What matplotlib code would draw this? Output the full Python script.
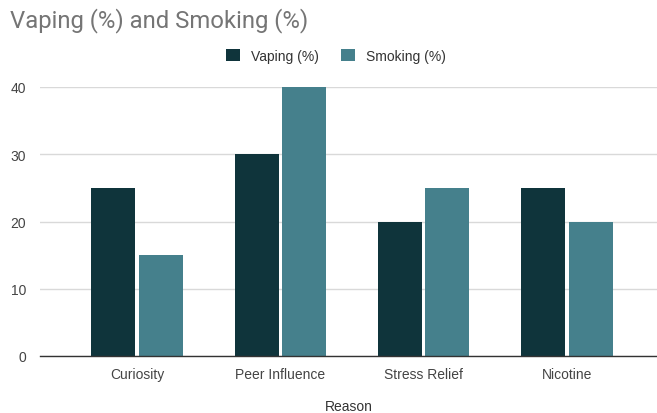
import matplotlib
matplotlib.use("Agg")
import matplotlib.pyplot as plt
import numpy as np

categories = ["Curiosity", "Peer Influence", "Stress Relief", "Nicotine"]
vaping = [25, 30, 20, 25]
smoking = [15, 40, 25, 20]
series_names = ["Vaping (%)", "Smoking (%)"]
yticks = [0, 10, 20, 30, 40]

plt.rcParams["font.family"] = ["Liberation Sans", "DejaVu Sans"]

fig = plt.figure(figsize=(6.57, 4.14), dpi=100)
ax = fig.add_axes([40 / 657, 1 - 357 / 414, 617 / 657, (357 - 88) / 414])

x = np.arange(len(categories))
w = 0.307
gap = 0.011
c_vape = "#0f343b"
c_smoke = "#45808c"
ax.bar(x - w / 2 - gap, vaping, width=w, color=c_vape, label=series_names[0], zorder=3)
ax.bar(x + w / 2 + gap, smoking, width=w, color=c_smoke, label=series_names[1], zorder=3)

ax.set_xlim(-0.677, 3.628)
ax.set_ylim(0, 40)
ax.set_yticks(yticks)
ax.set_xticks(x)
ax.set_xticklabels(categories)
ax.tick_params(axis="both", length=0, labelsize=10, colors="#444444")
ax.tick_params(axis="x", pad=8)
ax.tick_params(axis="y", pad=10)
ax.grid(axis="y", color="#d9d9d9", linewidth=1, zorder=0)
for s in ["top", "right", "left"]:
    ax.spines[s].set_visible(False)
ax.spines["bottom"].set_color("#333333")
ax.spines["bottom"].set_linewidth(1)
ax.spines["bottom"].set_zorder(4)

ax.set_xlabel("Reason", fontsize=10, color="#333333", labelpad=13)

fig.text(10 / 657, 1 - 21 / 414, "Vaping (%) and Smoking (%)", fontsize=17.2,
         color="#757575", va="center", ha="left", family=["Roboto", "DejaVu Sans"])

leg = fig.legend(loc="center", bbox_to_anchor=(336 / 657, 1 - 57 / 414), ncol=2,
                 frameon=False, fontsize=10, handlelength=1.0, handleheight=1.0,
                 handletextpad=0.8, columnspacing=1.6)
for t in leg.get_texts():
    t.set_color("#333333")

fig.savefig("out.png", dpi=100)
